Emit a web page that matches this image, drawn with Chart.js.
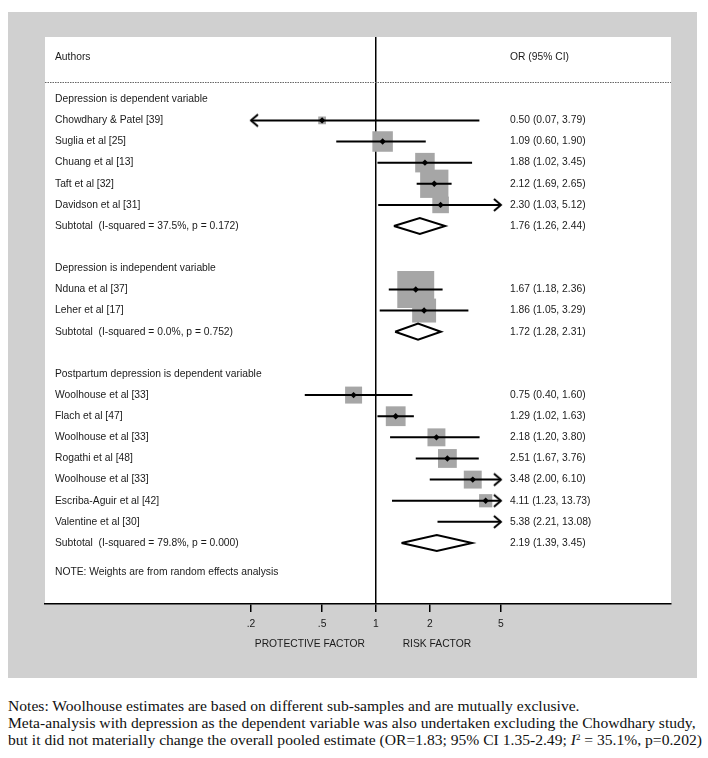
<!DOCTYPE html>
<html>
<head>
<meta charset="utf-8">
<script src="https://cdn.jsdelivr.net/npm/chart.js@4.4.1/dist/chart.umd.min.js"></script>
<style>
  body { margin: 0; background: #fff; width: 708px; height: 758px; position: relative; overflow: hidden; }
  #forest { position: absolute; left: 0; top: 0; }
  .notes { position: absolute; left: 8px; top: 697px; font-family: 'Liberation Serif', 'Times New Roman', serif;
           font-size: 15.6px; line-height: 17px; color: #111; white-space: nowrap; }
  .notes sup { font-size: 9px; line-height: 0; vertical-align: 5px; }
</style>
</head>
<body>
<canvas id="forest" width="708" height="680"></canvas>
<div class="notes">
  <div>Notes: Woolhouse estimates are based on different sub-samples and are mutually exclusive.</div>
  <div>Meta-analysis with depression as the dependent variable was also undertaken excluding the Chowdhary study,</div>
  <div>but it did not materially change the overall pooled estimate (OR=1.83; 95% CI 1.35-2.49; <i>I</i><sup>2</sup> = 35.1%, p=0.202)</div>
</div>
<script>
// Left column, one entry per row (row index = y value)
const rowLabels = [
    'Authors', '',
    'Depression is dependent variable',
    'Chowdhary & Patel [39]', 'Suglia et al [25]', 'Chuang et al [13]', 'Taft et al [32]', 'Davidson et al [31]',
    'Subtotal  (I-squared = 37.5%, p = 0.172)', '',
    'Depression is independent variable',
    'Nduna et al [37]', 'Leher et al [17]',
    'Subtotal  (I-squared = 0.0%, p = 0.752)', '',
    'Postpartum depression is dependent variable',
    'Woolhouse et al [33]', 'Flach et al [47]', 'Woolhouse et al [33]', 'Rogathi et al [48]',
    'Woolhouse et al [33]', 'Escriba-Aguir et al [42]', 'Valentine et al [30]',
    'Subtotal  (I-squared = 79.8%, p = 0.000)'
];

// Individual studies
const studyRows   = [3, 4, 5, 6, 7, 11, 12, 16, 17, 18, 19, 20, 21, 22];
const studyOR     = [0.50, 1.09, 1.88, 2.12, 2.30, 1.67, 1.86, 0.75, 1.29, 2.18, 2.51, 3.48, 4.11, 5.38];
const studyLow    = [0.07, 0.60, 1.02, 1.69, 1.03, 1.18, 1.05, 0.40, 1.02, 1.20, 1.67, 2.00, 1.23, 2.21];
const studyHigh   = [3.79, 1.90, 3.45, 2.65, 5.12, 2.36, 3.29, 1.60, 1.63, 3.80, 3.76, 6.10, 13.73, 13.08];
const studyWeight = [3.1, 21.7, 19.7, 41.3, 14.2, 70.4, 29.6, 14.9, 20.2, 16.6, 18.3, 16.6, 9.0, 4.4]; // % within subgroup

// Subtotals (random effects)
const subRows = [8, 13, 23];
const subOR   = [1.76, 1.72, 2.19];
const subLow  = [1.26, 1.28, 1.39];
const subHigh = [2.44, 2.31, 3.45];

// x axis
const tickValues = [0.2, 0.5, 1, 2, 5];
const tickLabels = ['.2', '.5', '1', '2', '5'];

const FONT = "'Liberation Sans', Arial, sans-serif";
const INK = '#1a1a1a';
const axisMin = tickValues[0];
const axisMax = tickValues[tickValues.length - 1];
const fmt = v => v.toFixed(2);
const ciText = (o, l, h) => `${fmt(o)} (${fmt(l)}, ${fmt(h)})`;

// open arrow heads used as point styles, tip at the centre of the image
function arrowHead(dir) {
    const c = document.createElement('canvas');
    c.width = 30;
    c.height = 16;
    const g = c.getContext('2d');
    g.strokeStyle = '#000';
    g.lineWidth = 2;
    const back = 15 - dir * 7;
    g.beginPath();
    g.moveTo(back, 2);
    g.lineTo(15, 8);
    g.lineTo(back, 14);
    g.stroke();
    return c;
}
const arrowRight = arrowHead(1);
const arrowLeft = arrowHead(-1);

// Build mark data from the arrays
const squares = [];
const centres = [];
const ciLines = [];
const arrows = [];
studyRows.forEach((r, i) => {
    const lo = Math.max(studyLow[i], axisMin);
    const hi = Math.min(studyHigh[i], axisMax);
    ciLines.push({ x: lo, y: r }, { x: hi, y: r }, { x: null, y: null });
    if (studyLow[i] < axisMin) arrows.push({ x: axisMin, y: r, dir: -1 });
    if (studyHigh[i] > axisMax) arrows.push({ x: axisMax, y: r, dir: 1 });
    if (studyOR[i] >= axisMin && studyOR[i] <= axisMax) {
        squares.push({ x: studyOR[i], y: r, w: studyWeight[i] });
        centres.push({ x: studyOR[i], y: r });
    }
});

const diamonds = [];
subRows.forEach((r, i) => {
    diamonds.push(
        { x: subLow[i], y: r }, { x: subOR[i], y: r - 0.38 },
        { x: subHigh[i], y: r }, { x: subOR[i], y: r + 0.38 },
        { x: subLow[i], y: r }, { x: null, y: null }
    );
});

// Background panels, OR column and other plot text
const forestDecor = {
    id: 'forestDecor',
    beforeDraw(chart) {
        const { ctx, chartArea: a } = chart;
        ctx.save();
        ctx.fillStyle = '#fff';
        ctx.fillRect(0, 0, chart.width, chart.height);
        ctx.fillStyle = '#d0d0d0';
        ctx.fillRect(8, 12, 689, 666);
        ctx.fillStyle = '#fff';
        ctx.fillRect(a.left, a.top, a.right - a.left, a.bottom - a.top);
        ctx.restore();
    },
    afterDatasetsDraw(chart) {
        const { ctx, chartArea: a } = chart;
        const xs = chart.scales.x;
        const ys = chart.scales.y;
        const colX = a.left + 465;
        ctx.save();

        // header separator
        ctx.strokeStyle = '#666';
        ctx.lineWidth = 1;
        ctx.setLineDash([1.5, 1]);
        const sepY = Math.round(ys.getPixelForValue(1.18)) + 0.5;
        ctx.beginPath();
        ctx.moveTo(a.left, sepY);
        ctx.lineTo(a.right, sepY);
        ctx.stroke();
        ctx.setLineDash([]);

        ctx.font = `10.3px ${FONT}`;
        ctx.fillStyle = INK;
        ctx.textBaseline = 'middle';
        ctx.textAlign = 'left';
        ctx.fillText('OR (95% CI)', colX, ys.getPixelForValue(0));
        studyRows.forEach((r, i) => {
            ctx.fillText(ciText(studyOR[i], studyLow[i], studyHigh[i]), colX, ys.getPixelForValue(r));
        });
        subRows.forEach((r, i) => {
            ctx.fillText(ciText(subOR[i], subLow[i], subHigh[i]), colX, ys.getPixelForValue(r));
        });
        ctx.fillText('NOTE: Weights are from random effects analysis', a.left + 10, ys.getPixelForValue(24.38));

        // favours labels under the axis
        const one = xs.getPixelForValue(1);
        ctx.textAlign = 'center';
        ctx.fillText('PROTECTIVE FACTOR', one - 66, a.bottom + 40);
        ctx.fillText('RISK FACTOR', one + 61, a.bottom + 40);
        ctx.restore();
    }
};

new Chart(document.getElementById('forest'), {
    type: 'scatter',
    data: {
        datasets: [
            {
                label: 'estimate',
                data: centres,
                pointStyle: 'rectRot',
                pointRadius: 3.2,
                backgroundColor: '#000',
                borderWidth: 0,
                order: 0
            },
            {
                label: '95% CI',
                data: ciLines,
                showLine: true,
                spanGaps: false,
                borderColor: '#000',
                borderWidth: 2,
                pointRadius: 0,
                order: 1
            },
            {
                label: 'truncated CI',
                data: arrows,
                pointStyle: c => (c.raw && c.raw.dir < 0) ? arrowLeft : arrowRight,
                pointRadius: 5,
                order: 1
            },
            {
                label: 'subtotal',
                data: diamonds,
                showLine: true,
                spanGaps: false,
                borderColor: '#000',
                borderWidth: 2,
                borderJoinStyle: 'miter',
                pointRadius: 0,
                order: 1
            },
            {
                label: 'weight',
                data: squares,
                pointStyle: 'rect',
                pointRadius: c => c.raw ? 4.4 * Math.sqrt(c.raw.w) / Math.SQRT2 : 0,
                backgroundColor: '#a6a6a6',
                borderWidth: 0,
                order: 2
            }
        ]
    },
    options: {
        responsive: false,
        animation: false,
        events: [],
        layout: { padding: { left: 45, right: 37, top: 37, bottom: 0 } },
        plugins: { legend: { display: false }, tooltip: { enabled: false } },
        scales: {
            x: {
                type: 'logarithmic',
                position: 'bottom',
                min: 0.0141,
                max: 44.7,
                bounds: 'data',
                afterBuildTicks: s => { s.ticks = tickValues.map(v => ({ value: v })); },
                afterFit: s => { s.height = 76; },
                grid: {
                    drawOnChartArea: true,
                    color: c => (c.tick && c.tick.value === 1) ? '#000' : 'rgba(0,0,0,0)',
                    lineWidth: 1.5,
                    drawTicks: true,
                    tickLength: 8,
                    tickColor: '#000',
                    tickWidth: 1.5
                },
                border: { display: true, color: '#000', width: 1.5 },
                ticks: {
                    callback: (v, i) => tickLabels[i],
                    font: { family: FONT, size: 10.3 },
                    color: INK,
                    padding: 6,
                    maxRotation: 0,
                    autoSkip: false
                }
            },
            y: {
                type: 'linear',
                reverse: true,
                min: -0.946,
                max: 25.887,
                afterBuildTicks: s => { s.ticks = rowLabels.map((_, i) => ({ value: i })); },
                afterFit: s => { s.width = 0; },
                grid: { display: false },
                border: { display: false },
                ticks: {
                    mirror: true,
                    padding: 10,
                    autoSkip: false,
                    callback: (v, i) => rowLabels[i],
                    font: { family: FONT, size: 10.3 },
                    color: INK
                }
            }
        }
    },
    plugins: [forestDecor]
});
</script>
</body>
</html>
